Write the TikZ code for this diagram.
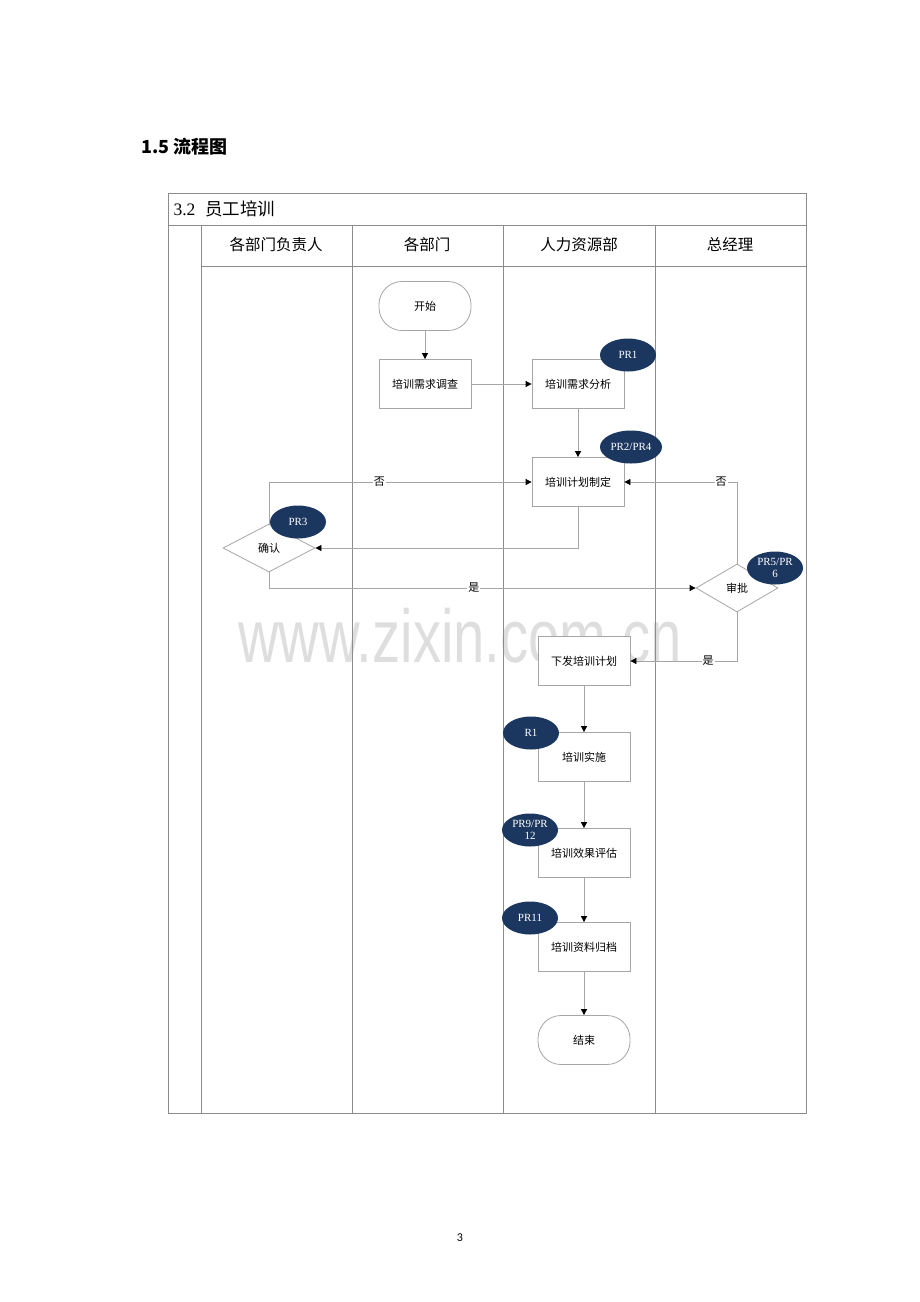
\documentclass[tikz,border=0pt]{standalone}
\usepackage{fontspec}
\setmainfont{Liberation Serif}
\newfontfamily\cjk{Noto Sans CJK SC}
\newfontfamily\markfont{Liberation Sans}
\newfontfamily\pagefont{Carlito}
\usetikzlibrary{shapes.geometric,arrows.meta}
\definecolor{linegray}{HTML}{8C8C8C}
\definecolor{boxgray}{HTML}{A6A6A6}
\definecolor{tagblue}{HTML}{1B365F}
\definecolor{markgray}{HTML}{DEDEDE}
\tikzset{
lane/.style={draw=linegray, line width=0.9pt},
task/.style={rectangle, draw=boxgray, fill=white, line width=0.8pt, minimum width=92pt, minimum height=49pt, inner sep=0pt, font=\cjk\fontsize{11}{13}\selectfont},
terminal/.style={task, rounded corners=23pt},
decision/.style={diamond, draw=boxgray, fill=white, line width=0.8pt, inner sep=0pt, minimum width=92pt, minimum height=48pt, font=\cjk\fontsize{11}{13}\selectfont},
tag/.style={ellipse, fill=tagblue, text=white, minimum width=56pt, minimum height=33pt, inner sep=0pt, align=center, font=\fontsize{11}{12}\selectfont},
flow/.style={draw=boxgray, line width=0.8pt, -{Triangle[length=6pt,width=6pt,color=black]}},
answer/.style={fill=white, inner sep=1pt, font=\cjk\fontsize{11}{13}\selectfont},
head/.style={font=\cjk\fontsize{15.5}{17}\selectfont},
}

\begin{document}
\begin{tikzpicture}[x=1pt,y=-1pt]
\useasboundingbox (0,0) rectangle (920,1302);
% watermark
\node[text=markgray, font=\markfont\fontsize{75}{75}\selectfont, xscale=0.75] (mark) at (460,636) {www.zixin.com.cn};

\node[anchor=west, font=\cjk\bfseries\fontsize{18}{20}\selectfont] (title) at (138,147) {1.5 流程图};

% table
\draw[lane] (168,193) rectangle (806,1113);
\draw[lane] (168,225) -- (806,225);
\draw[lane] (201,266) -- (806,266);
\foreach \x in {201,352,503,655}
  \draw[lane] (\x,225) -- (\x,1113);
\node[anchor=west, font=\fontsize{17.5}{19}\selectfont] (sec) at (170,209) {3.2\hspace{10pt}{\cjk 员工培训}};
\node[head] (h1) at (276,245) {各部门负责人};
\node[head] (h2) at (427,245) {各部门};
\node[head] (h3) at (579,245) {人力资源部};
\node[head] (h4) at (730,245) {总经理};

% steps
\node[terminal] (start) at (425,306) {开始};
\node[task] (survey) at (425,384) {培训需求调查};
\node[task] (analyse) at (578,384) {培训需求分析};
\node[task] (plan) at (578,482) {培训计划制定};
\node[decision] (confirm) at (269,548) {确认};
\node[decision, minimum width=82pt] (approve) at (737,588) {审批};
\node[task] (issue) at (584,661) {下发培训计划};
\node[task] (train) at (584,757) {培训实施};
\node[task] (assess) at (584,853) {培训效果评估};
\node[task] (archive) at (584,947) {培训资料归档};
\node[terminal] (finish) at (584,1040) {结束};

% connectors
\draw[flow] (start) -- (survey);
\draw[flow] (survey) -- (analyse);
\draw[flow] (analyse) -- (plan);
\draw[flow] (plan.south) |- (confirm.east);
\draw[flow] (confirm.north) |- node[answer, pos=0.71] {否} (plan.west);
\draw[flow] (confirm.south) |- node[answer, pos=0.74] {是} (approve.west);
\draw[flow] (approve.north) |- node[answer, pos=0.57] {否} (plan.east);
\draw[flow] (approve.south) |- node[answer, pos=0.635] {是} (issue.east);
\draw[flow] (issue) -- (train);
\draw[flow] (train) -- (assess);
\draw[flow] (assess) -- (archive);
\draw[flow] (archive) -- (finish);

% process tags
\node[tag] (pr1) at (628,355) {PR1};
\node[tag, minimum width=62pt] (pr24) at (631,447) {PR2/PR4};
\node[tag] (pr3) at (298,522) {PR3};
\node[tag] (pr56) at (775,568) {PR5/PR\\6};
\node[tag] (r1) at (531,733) {R1};
\node[tag] (pr912) at (530,830) {PR9/PR\\12};
\node[tag] (pr11) at (530,918) {PR11};

\node[font=\pagefont\fontsize{12}{14}\selectfont] (pageno) at (460,1238) {3};
\end{tikzpicture}
\end{document}
